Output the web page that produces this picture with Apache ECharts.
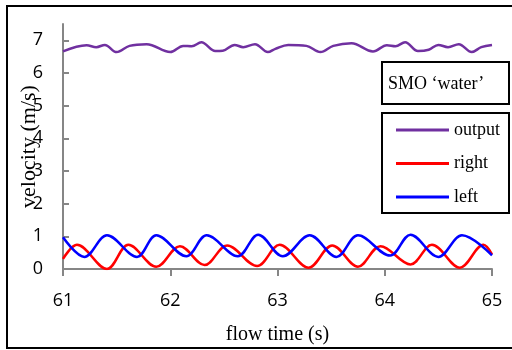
<!DOCTYPE html>
<html>
<head>
<meta charset="utf-8">
<script src="https://cdn.jsdelivr.net/npm/echarts@6/dist/echarts.min.js"></script>
<style>html,body{margin:0;padding:0;background:#fff;}#c{width:512px;height:350px;}</style>
</head>
<body>
<div id="c"></div>
<script>
// ---- data ----
const outputTime = [61.00, 61.22, 61.31, 61.39, 61.50, 61.62, 61.78, 62.00, 62.12, 62.20, 62.29, 62.42, 62.49, 62.60, 62.68, 62.79, 62.91, 62.98, 63.10, 63.27, 63.40, 63.52, 63.69, 63.89, 64.02, 64.10, 64.19, 64.31, 64.41, 64.50, 64.59, 64.69, 64.81, 64.90, 65.00];
const outputVel  = [6.66, 6.85, 6.79, 6.86, 6.64, 6.83, 6.88, 6.64, 6.83, 6.82, 6.94, 6.67, 6.68, 6.86, 6.79, 6.88, 6.64, 6.74, 6.86, 6.83, 6.64, 6.83, 6.91, 6.66, 6.85, 6.82, 6.94, 6.67, 6.71, 6.86, 6.79, 6.88, 6.64, 6.79, 6.86];

const rightTime = [61.00, 61.13, 61.41, 61.61, 61.87, 62.09, 62.32, 62.53, 62.81, 63.02, 63.29, 63.51, 63.75, 63.96, 64.24, 64.44, 64.70, 64.92, 65.00];
const rightVel  = [0.31, 0.74, 0.00, 0.74, 0.07, 0.70, 0.12, 0.72, 0.09, 0.74, 0.04, 0.72, 0.07, 0.70, 0.14, 0.74, 0.04, 0.74, 0.45];

const leftTime = [61.00, 61.20, 61.41, 61.69, 61.87, 62.15, 62.34, 62.63, 62.82, 63.05, 63.30, 63.55, 63.75, 64.05, 64.24, 64.50, 64.72, 65.00];
const leftVel  = [0.97, 0.37, 1.03, 0.37, 1.03, 0.39, 1.03, 0.39, 1.05, 0.39, 1.03, 0.37, 1.03, 0.41, 1.05, 0.37, 1.03, 0.42];

const seriesNames = ['output', 'right', 'left'];
const xTicks = [61, 62, 63, 64, 65];
const yTicks = [0, 1, 2, 3, 4, 5, 6, 7];
const legendTitle = 'SMO \u2018water\u2019';
const xName = 'flow time (s)';
const yName = 'velocity (m/s)';

function zip(a, b) { return a.map((v, i) => [v, b[i]]); }

const serif = 'Liberation Serif';
const sans = 'Open Sans';
const axisGray = '#868686';

const chart = echarts.init(document.getElementById('c'), null, {renderer: 'canvas'});
chart.setOption({
  animation: false,
  backgroundColor: '#fff',
  grid: {left: 63, right: 20, top: 24, bottom: 75, containLabel: false},
  xAxis: {
    type: 'value', min: 61, max: 65, interval: 1,
    name: xName, nameLocation: 'middle', nameGap: 56, nameMoveOverlap: false,
    nameTextStyle: {fontFamily: serif, fontSize: 20, color: '#000'},
    axisLine: {lineStyle: {color: axisGray, width: 2}},
    axisTick: {show: true, inside: false, length: 7, lineStyle: {color: axisGray, width: 2}, customValues: xTicks},
    axisLabel: {fontFamily: sans, fontSize: 18, color: '#000', margin: 23, customValues: xTicks},
    splitLine: {show: false}
  },
  yAxis: {
    type: 'value', min: 0, max: 7.5, interval: 1,
    name: yName, nameLocation: 'middle', nameGap: 23, nameRotate: 90, nameMoveOverlap: false,
    nameTextStyle: {fontFamily: serif, fontSize: 22, color: '#000'},
    axisLine: {show: true, lineStyle: {color: axisGray, width: 2}},
    axisTick: {show: true, inside: true, length: 6, lineStyle: {color: axisGray, width: 2}, customValues: yTicks},
    axisLabel: {fontFamily: sans, fontSize: 18, color: '#000', margin: 20, customValues: yTicks},
    splitLine: {show: false}
  },
  legend: {
    data: seriesNames.map(n => ({name: n, icon: 'rect'})),
    orient: 'vertical', left: 391, top: 116,
    itemWidth: 53, itemHeight: 3, itemGap: 15.5,
    textStyle: {fontFamily: serif, fontSize: 18, color: '#000'},
    backgroundColor: 'transparent'
  },
  graphic: [
    {type: 'rect', shape: {x: 7, y: 6, width: 520, height: 342}, style: {fill: 'none', stroke: '#000', lineWidth: 2}, z: 100},
    {type: 'rect', shape: {x: 382, y: 62, width: 127, height: 42}, style: {fill: '#fff', stroke: '#000', lineWidth: 2}, z: 50},
    {type: 'text', x: 388, y: 84, style: {text: legendTitle, fontFamily: serif, fontSize: 18, fill: '#000', verticalAlign: 'middle'}, z: 51},
    {type: 'rect', shape: {x: 382, y: 113, width: 127, height: 100}, style: {fill: '#fff', stroke: '#000', lineWidth: 2}, z: 1}
  ],
  series: [
    {name: seriesNames[0], type: 'line', data: zip(outputTime, outputVel), smooth: 0.36, symbol: 'none', lineStyle: {color: '#7030A0', width: 2.5}, itemStyle: {color: '#7030A0'}},
    {name: seriesNames[1], type: 'line', data: zip(rightTime, rightVel), smooth: 0.36, symbol: 'none', lineStyle: {color: '#FF0000', width: 2.5}, itemStyle: {color: '#FF0000'}},
    {name: seriesNames[2], type: 'line', data: zip(leftTime, leftVel), smooth: 0.36, symbol: 'none', lineStyle: {color: '#0000FF', width: 2.5}, itemStyle: {color: '#0000FF'}}
  ]
});
</script>
</body>
</html>
